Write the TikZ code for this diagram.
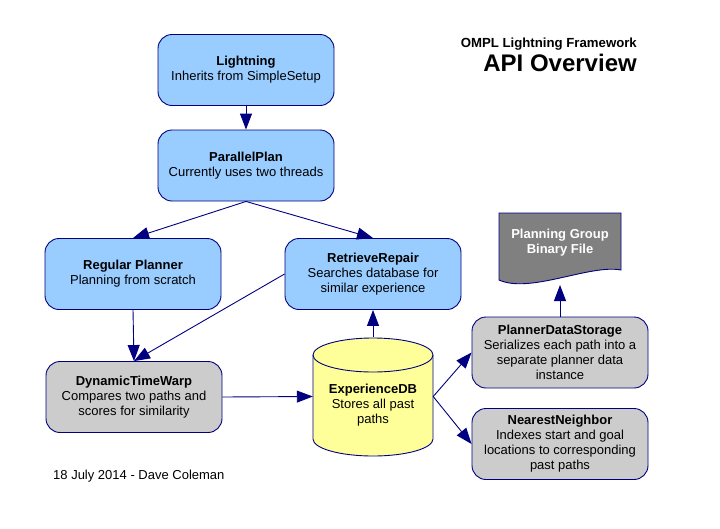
\documentclass[tikz,border=0pt]{standalone}
\usepackage{fontspec}
\setmainfont{Liberation Sans}
\usetikzlibrary{arrows.meta}
\definecolor{navy}{HTML}{000080}
\definecolor{lblue}{HTML}{99CCFF}
\definecolor{lgrey}{HTML}{CCCCCC}
\definecolor{lyellow}{HTML}{FFFF99}
\definecolor{dgrey}{HTML}{808080}
\tikzset{
  txt/.style={font=\fontsize{13}{15}\selectfont, align=center, inner sep=0pt},
  box/.style={txt, draw=navy, line width=0.9pt, rounded corners=14pt,
              minimum width=176pt, minimum height=71pt},
  bluebox/.style={box, fill=lblue},
  greybox/.style={box, fill=lgrey},
  conn/.style={draw=navy, line width=0.9pt, -{Triangle[length=16pt,width=12pt]}},
}
\begin{document}
\begin{tikzpicture}[x=1pt,y=-1pt]
\path[use as bounding box, fill=white] (0,0) rectangle (720,528);

% title
\node[font=\bfseries\fontsize{13.2}{15}\selectfont, anchor=base east, inner sep=0pt] (t1) at (637,47) {OMPL Lightning Framework};
\node[font=\bfseries\fontsize{24}{28}\selectfont, anchor=base east, inner sep=0pt] (t2) at (637,71) {API Overview};
\node[txt, anchor=base west] (date) at (53,479) {18 July 2014 - Dave Coleman};

% boxes
\node[bluebox] (light) at (246,70) {\textbf{Lightning}\\Inherits from SimpleSetup};
\node[bluebox] (pp) at (246,165.5) {\textbf{ParallelPlan}\\Currently uses two threads};
\node[bluebox] (rp) at (133,274) {\textbf{Regular Planner}\\Planning from scratch};
\node[bluebox] (rr) at (373,274) {\textbf{RetrieveRepair}\\Searches database for\\similar experience};
\node[greybox] (dtw) at (134,397) {\textbf{DynamicTimeWarp}\\Compares two paths and\\scores for similarity};
\node[greybox] (pds) at (560,352.5) {\textbf{PlannerDataStorage}\\Serializes each path into a\\separate planner data\\instance};
\node[greybox] (nn) at (560,444) {\textbf{NearestNeighbor}\\Indexes start and goal\\locations to corresponding\\past paths};

% cylinder
\path[draw=navy, line width=0.9pt, fill=lyellow]
  (313,355) -- (313,439) arc[start angle=180, end angle=360, x radius=60pt, y radius=17pt]
  -- (433,355) arc[start angle=0, end angle=180, x radius=60pt, y radius=17pt] -- cycle;
\draw[navy, line width=0.9pt] (313,355) arc[start angle=180, end angle=360, x radius=60pt, y radius=17pt];
\node[inner sep=0pt, minimum width=120pt, minimum height=119pt] (edb) at (373,396.5) {};
\node[txt] (edbt) at (373,405) {\textbf{ExperienceDB}\\Stores all past\\paths};

% binary file document shape
\path[draw=navy, line width=0.9pt, fill=dgrey]
  (499,213) -- (621,213) -- (621,270)
  .. controls (590,264) and (530,294) .. (499,280) -- cycle;
\node[txt, font=\bfseries\fontsize{13}{15}\selectfont, text=white] (bf) at (560,243) {Planning Group\\Binary File};
\coordinate (bfb) at (560,285);

% connectors
\draw[conn] (light.south) -- (pp.north);
\draw[conn] (pp.south) -- (rp.north);
\draw[conn] (pp.south) -- (rr.north);
\draw[conn] (rp.south) -- (dtw.north);
\draw[conn] (rr.west) -- (dtw.north);
\draw[conn] (dtw.east) -- (edb.west);
\draw[conn] (edb.north) -- (rr.south);
\draw[conn] (edb.east) -- (pds.west);
\draw[conn] (edb.east) -- (nn.west);
\draw[conn] (pds.north) -- (bfb);
\end{tikzpicture}
\end{document}
